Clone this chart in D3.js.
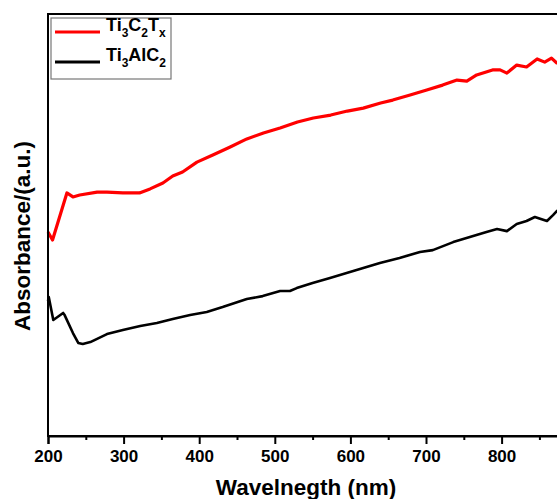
<!DOCTYPE html>
<html>
<head>
<meta charset="utf-8">
<script src="https://cdn.jsdelivr.net/npm/d3@7"></script>
<style>
  body { margin: 0; background: #fff; }
  text { font-family: "Liberation Sans", Arial, sans-serif; font-weight: bold; }
</style>
</head>
<body>
<svg width="557" height="499"></svg>
<script>
    // values (wavelength nm, absorbance a.u.)
    let red_wl = [200, 206, 225, 233, 242, 265, 278, 299, 321, 335, 352, 365, 378, 397, 418, 441, 463, 485, 507, 530, 551, 574, 596, 617, 640, 656, 679, 701, 722, 741, 754, 767, 788, 798, 807, 820, 833, 847, 857, 866, 873, 880]
    let red_abs = [0.967, 0.929, 1.152, 1.133, 1.142, 1.156, 1.156, 1.152, 1.152, 1.171, 1.199, 1.232, 1.251, 1.298, 1.332, 1.370, 1.408, 1.436, 1.460, 1.488, 1.507, 1.521, 1.540, 1.554, 1.578, 1.592, 1.616, 1.640, 1.663, 1.687, 1.682, 1.711, 1.735, 1.735, 1.720, 1.758, 1.749, 1.787, 1.772, 1.791, 1.768, 1.775]

    let black_wl = [200, 201, 207, 220, 222, 233, 240, 246, 256, 278, 299, 322, 344, 365, 388, 410, 431, 463, 484, 507, 520, 529, 550, 573, 595, 617, 639, 665, 692, 709, 736, 758, 780, 794, 807, 820, 833, 844, 848, 860, 868, 873, 880]
    let black_abs = [0.640, 0.659, 0.550, 0.583, 0.573, 0.488, 0.441, 0.436, 0.445, 0.483, 0.502, 0.521, 0.536, 0.554, 0.573, 0.588, 0.611, 0.649, 0.663, 0.687, 0.687, 0.701, 0.725, 0.749, 0.772, 0.796, 0.820, 0.844, 0.872, 0.881, 0.919, 0.943, 0.967, 0.981, 0.971, 1.005, 1.019, 1.038, 1.033, 1.019, 1.047, 1.066, 1.075]

    let x_ticks = [200, 300, 400, 500, 600, 700, 800]
    let x_minor = [250, 350, 450, 550, 650, 750, 850]

    let margin = { top: 14, left: 48, bottom: 63 }
    let width = 557
    let height = 499

    let svg = d3.select("svg")

    let x = d3.scaleLinear()
        .domain([200, 900])
        .range([margin.left, margin.left + 7 * 75.6])

    let y = d3.scaleLinear()
        .domain([0, 2])
        .range([height - margin.bottom, margin.top])

    let red = red_wl.map((w, i) => ({ w: w, a: red_abs[i] }))
    let black = black_wl.map((w, i) => ({ w: w, a: black_abs[i] }))

    let line = d3.line()
        .x(d => x(d.w))
        .y(d => y(d.a))

    svg.append("path")
        .datum(black)
        .attr("d", line)
        .style("fill", "none")
        .style("stroke", "#000")
        .style("stroke-width", 2.6)
        .style("stroke-linejoin", "round")

    svg.append("path")
        .datum(red)
        .attr("d", line)
        .style("fill", "none")
        .style("stroke", "#ff0000")
        .style("stroke-width", 3.2)
        .style("stroke-linejoin", "round")

    // frame (right side falls outside the picture)
    svg.append("rect")
        .attr("x", x(200))
        .attr("y", y(2))
        .attr("width", x(900) - x(200))
        .attr("height", y(0) - y(2))
        .style("fill", "none")
        .style("stroke", "#000")
        .style("stroke-width", 2)

    let xAxis = svg.append("g")
        .attr("transform", `translate(0, ${y(0)})`)
        .call(d3.axisBottom(x).tickValues(x_ticks).tickSize(8).tickPadding(6).tickFormat(d3.format("d")))

    svg.append("g")
        .attr("transform", `translate(0, ${y(0)})`)
        .call(d3.axisBottom(x).tickValues(x_minor).tickSize(4).tickFormat(""))
        .call(g => g.select(".domain").remove())
        .selectAll("line").style("stroke-width", 2)

    xAxis.select(".domain").style("stroke-width", 2)
    xAxis.selectAll("line").style("stroke-width", 2)
    xAxis.selectAll("text")
        .style("font-size", "17px")
        .style("font-family", "Liberation Sans, Arial")
        .style("font-weight", "bold")
        .style("fill", "#000")

    svg.append("text")
        .attr("x", 306)
        .attr("y", 495)
        .attr("text-anchor", "middle")
        .style("font-size", "22.5px")
        .text("Wavelnegth (nm)")

    svg.append("text")
        .attr("transform", "translate(30, 236) rotate(-90)")
        .attr("text-anchor", "middle")
        .style("font-size", "22.5px")
        .text("Absorbance/(a.u.)")

    // legend
    let legend = svg.append("g")
    legend.append("rect")
        .attr("x", 51).attr("y", 18)
        .attr("width", 120).attr("height", 61)
        .style("fill", "#fff")
        .style("stroke", "#777")
        .style("stroke-width", 1.2)

    let items = [
        { color: "#ff0000", y: 32, parts: [["Ti", 0], ["3", 1], ["C", 0], ["2", 1], ["T", 0], ["x", 1]] },
        { color: "#000", y: 62, parts: [["Ti", 0], ["3", 1], ["AlC", 0], ["2", 1]] }
    ]

    items.forEach(it => {
        legend.append("line")
            .attr("x1", 55).attr("x2", 100)
            .attr("y1", it.y).attr("y2", it.y)
            .style("stroke", it.color)
            .style("stroke-width", 3)
        let t = legend.append("text")
            .attr("x", 106)
            .attr("y", it.y + 5)
            .style("font-size", "18px")
        it.parts.forEach(p => {
            t.append("tspan")
                .attr("dy", p[1] ? 6 : (t.selectAll("tspan").size() > 0 ? -6 : 0))
                .style("font-size", p[1] ? "12px" : "18px")
                .text(p[0])
        })
    })
</script>
</body>
</html>
